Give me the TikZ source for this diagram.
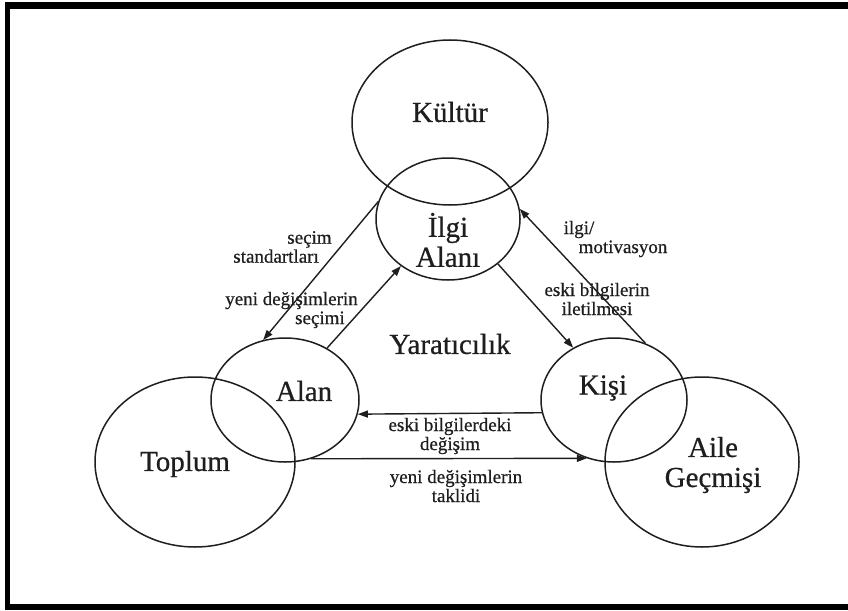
\documentclass[tikz,border=0pt]{standalone}
\usepackage{fontspec}
\setmainfont{Liberation Serif}[FakeBold=0.6]
\usetikzlibrary{shapes.geometric,arrows.meta}
\definecolor{ink}{HTML}{1E1E1E}

\begin{document}
\begin{tikzpicture}[x=1pt,y=-1pt,
  ring/.style={draw=ink, line width=1.5pt, ellipse, inner sep=0pt},
  big/.style={text=ink, font=\fontsize{29}{30}\selectfont, align=center, inner sep=0pt},
  small/.style={text=ink, font=\fontsize{19}{19}\selectfont, inner sep=0pt},
  flow/.style={draw=ink, line width=1.4pt, -{Triangle[length=10pt,width=7pt]}},
  bar/.style={fill=black, draw=none}]

% page and black frame
\useasboundingbox (0,0) rectangle (848,610);
\fill[white] (0,0) rectangle (848,610);
\fill[bar] (5,2) rectangle (848,9);
\fill[bar] (5,2) rectangle (10,610);
\fill[bar] (5,604) rectangle (848,610);

% circles
\node[ring, minimum width=196pt, minimum height=165pt] (kultur) at (450,122.5) {};
\node[ring, minimum width=144pt, minimum height=122pt] (ilgi) at (448,219) {};
\node[ring, minimum width=148pt, minimum height=124pt] (alan) at (285,400) {};
\node[ring, minimum width=200pt, minimum height=170pt] (toplum) at (195,462) {};
\node[ring, minimum width=146pt, minimum height=124pt] (kisi) at (614,400) {};
\node[ring, minimum width=194pt, minimum height=170pt] (aile) at (702,462) {};

% circle titles
\node[big] (tKultur) at (450,112) {Kültür};
\node[big] (tIlgi) at (448,240) {İlgi\\Alanı};
\node[big] (tYaraticilik) at (450,344) {Yaratıcılık};
\node[big] (tAlan) at (304,391) {Alan};
\node[big] (tKisi) at (603,388) {Kişi};
\node[big] (tToplum) at (185,464) {Toplum};
\node[big] (tAile) at (713,465) {Aile\\Geçmişi};

% connectors
\draw[flow] (ilgi.166) -- (alan.110);
\draw[flow] (alan.51) -- (ilgi.225.6);
\draw[flow] (kisi.61.5) -- (ilgi.8.7);
\draw[flow] (ilgi.318.5) -- (kisi.128.4);
\draw[flow] (kisi.190.3) -- (alan.349.8);
\draw[flow] (alan.294.1) -- (kisi.245.9);

% connector labels
\node[small, align=left] (lSecim) at (282.5,247) {\hspace*{54pt}seçim\\standartları};
\node[small, align=right] (lSecimi) at (291.5,310) {yeni değişimlerin\\seçimi\hspace*{13pt}};
\node[small, align=left] (lIlgi) at (615.5,239) {ilgi/\\\hspace*{15pt}motivasyon};
\node[small, align=center] (lIletim) at (597,299) {eski bilgilerin\\iletilmesi};
\node[small, align=center] (lDegisim) at (450,436) {eski bilgilerdeki\\değişim};
\node[small, align=center] (lTaklit) at (456,486) {yeni değişimlerin\\taklidi};
\end{tikzpicture}
\end{document}
